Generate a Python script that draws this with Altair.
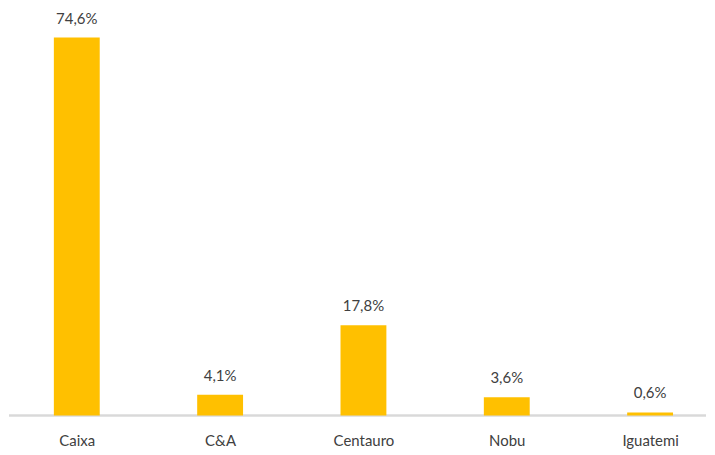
import altair as alt
import pandas as pd

categories = ["Caixa", "C&A", "Centauro", "Nobu", "Iguatemi"]
values = [74.6, 4.1, 17.8, 3.6, 0.6]

df = pd.DataFrame({
    "idx": list(range(len(categories))),
    "cat": categories,
    "val": values,
    "label": [f"{v:.1f}".replace(".", ",") + "%" for v in values],
})

font = "Lato"
txt_color = "#404040"
labels_js = "[" + ",".join("'" + c + "'" for c in categories) + "]"

x = alt.X("idx:Q", scale=alt.Scale(domain=[-0.473, 4.39], nice=False, zero=False, padding=0),
          axis=alt.Axis(values=list(range(len(categories))), labelExpr=f"{labels_js}[datum.value]",
                        ticks=False, domain=False, grid=False, title=None,
                        labelFont=font, labelFontSize=15, labelColor=txt_color, labelPadding=18))
y = alt.Y("val:Q", scale=alt.Scale(domain=[0, 79.7], nice=False, padding=0), axis=None)

bars = alt.Chart(df).mark_bar(size=46, color="#FFC000").encode(x=x, y=y)
text = alt.Chart(df).mark_text(baseline="bottom", dy=-11, font=font, fontSize=15, color=txt_color).encode(
    x=alt.X("idx:Q"), y=alt.Y("val:Q"), text="label:N")
rule = alt.Chart(df).mark_rule(color="#D9D9D9", strokeWidth=1.5).encode(
    x=alt.value(0), x2=alt.value(699), y=alt.value(405))

chart = alt.layer(rule, bars, text).properties(
    width=699, height=405, padding={"top": 2, "left": 0, "right": 0, "bottom": 0}
).configure_view(stroke=None)
chart.save("out.html", embed_options={"renderer": "svg", "actions": False})
